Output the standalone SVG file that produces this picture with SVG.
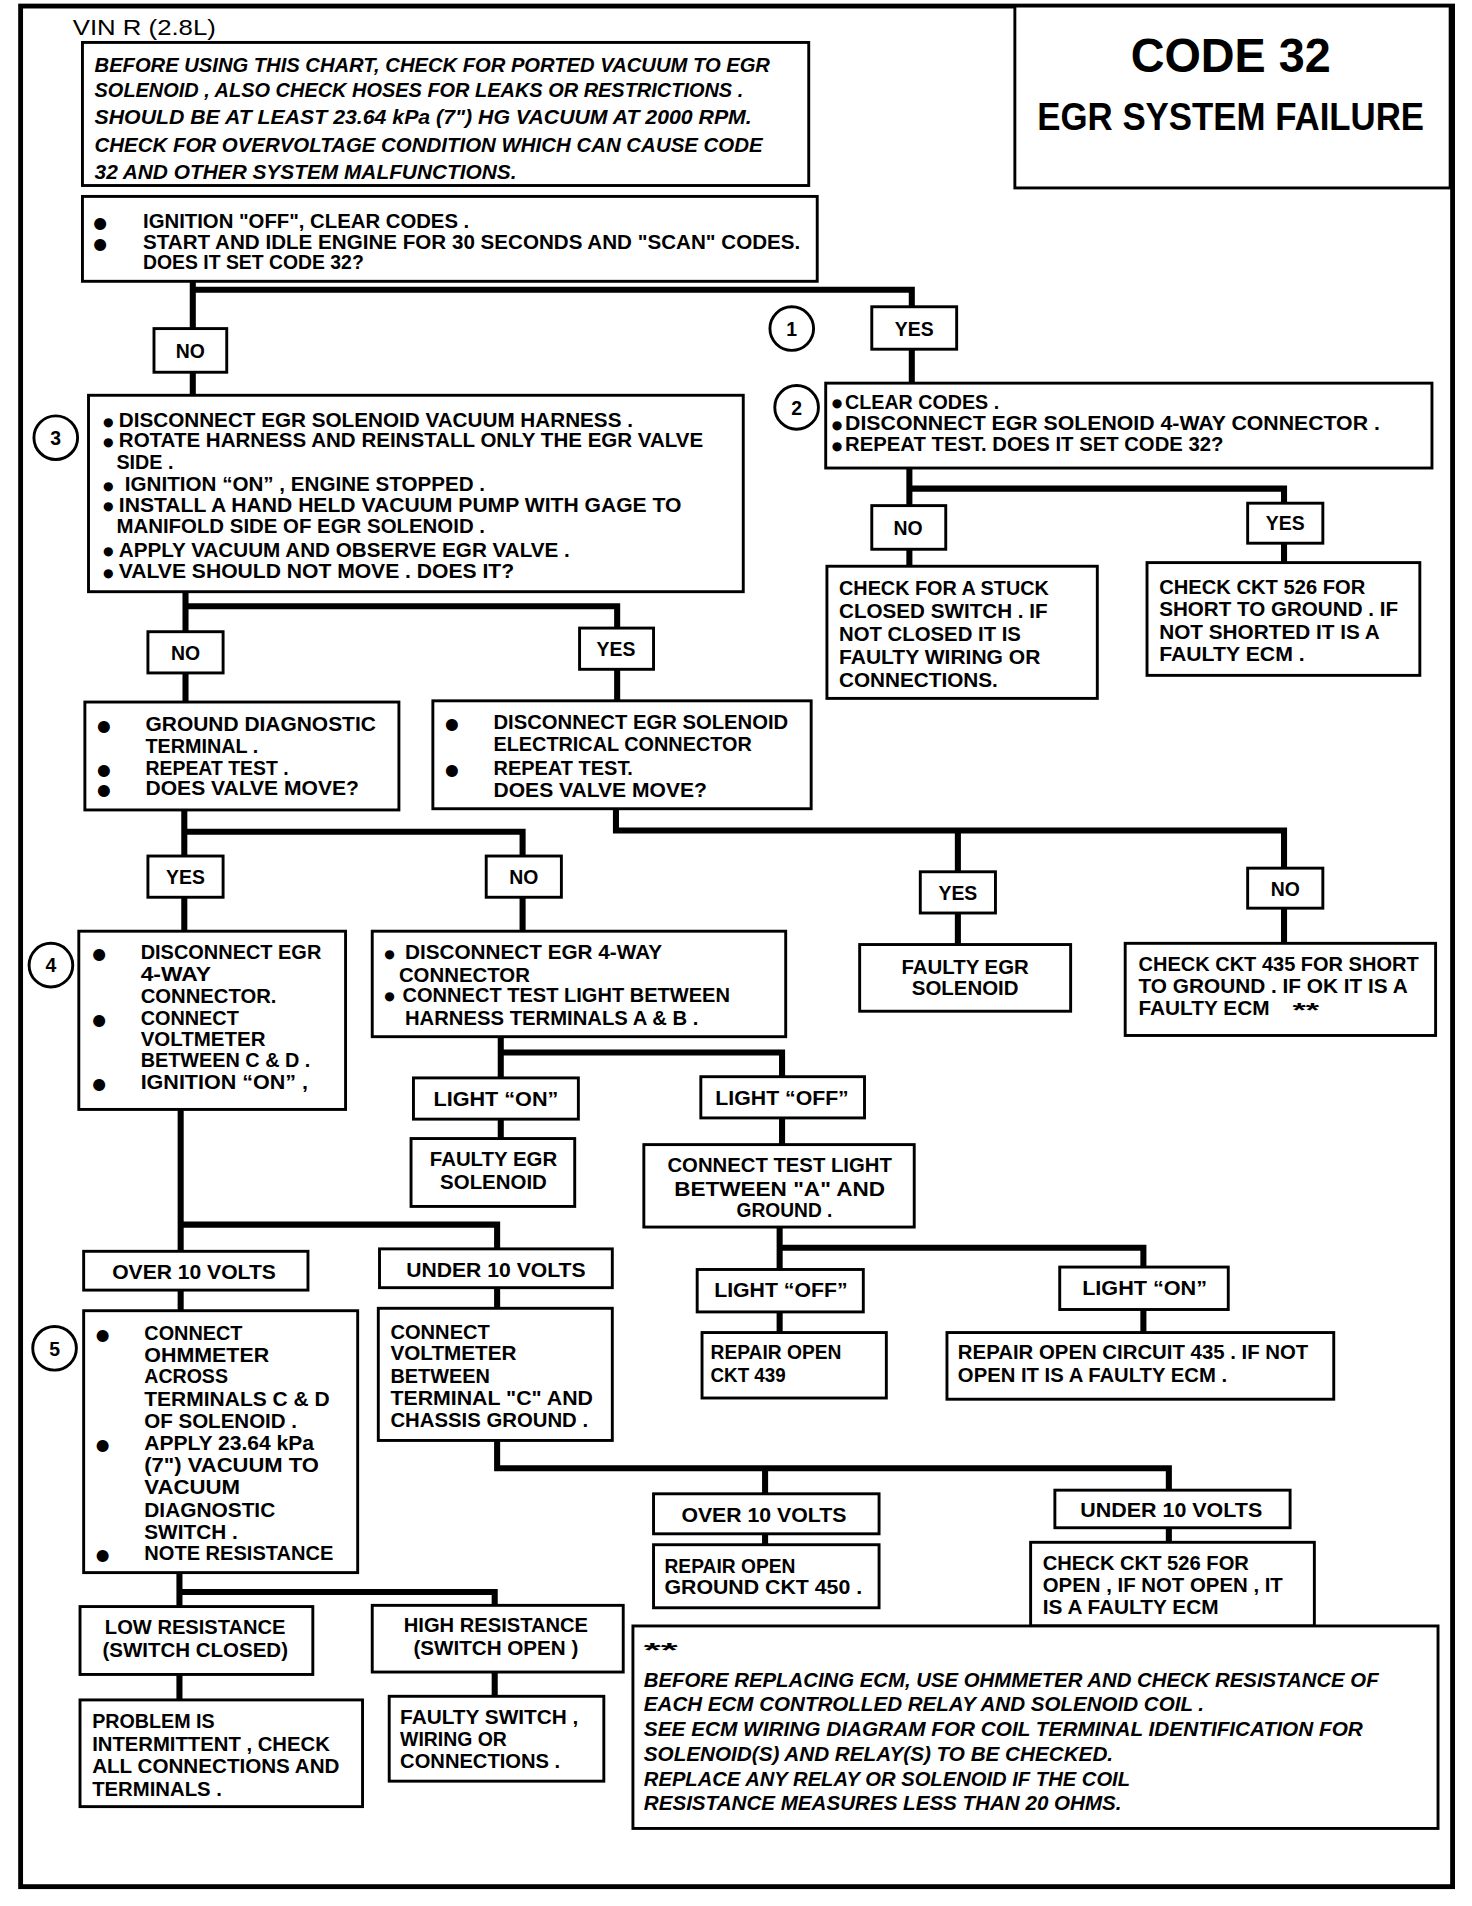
<svg xmlns="http://www.w3.org/2000/svg" width="1472" height="1906" viewBox="0 0 1472 1906">
<defs>
<style>
.b{fill:#fff;stroke:#000;stroke-width:2.4}
.f{fill:none;stroke:#000;stroke-width:4}
.c{fill:none;stroke:#000;stroke-width:5;stroke-linecap:square;stroke-linejoin:miter}
.ci{fill:#fff;stroke:#000;stroke-width:2.4}
text{font-family:"Liberation Sans",Arial,"DejaVu Sans",sans-serif;font-weight:bold;font-size:16px;fill:#000}
.i{font-style:italic;font-size:17px}
.m{text-anchor:middle}
.d{font-family:"DejaVu Sans",sans-serif;font-size:13px;font-weight:normal}
.s{font-family:"DejaVu Sans",sans-serif;font-size:10px;font-weight:normal}
.r{font-weight:normal;font-size:18px}
</style>
</defs>
<rect width="1472" height="1906" fill="#fff"/>
<g transform="scale(1.2125)">
<rect class="f" x="17" y="5" width="1181" height="1551"/>
<text class="r" x="60" y="29" textLength="118" lengthAdjust="spacingAndGlyphs">VIN R (2.8L)</text>

<g id="connectors">
<path class="c" d="M159,232 V271 M159,239 H752 V253"/>
<path class="c" d="M159,307 V326"/>
<path class="c" d="M752,288 V315"/>
<path class="c" d="M750,386 V417 M750,403 H1059 V415"/>
<path class="c" d="M750,453 V467 M1059,448 V464"/>
<path class="c" d="M153,488 V521 M153,500 H509 V518"/>
<path class="c" d="M153,555 V579 M509,552 V578"/>
<path class="c" d="M152,668 V706 M152,686 H431 V706"/>
<path class="c" d="M152,740 V768 M431,740 V768"/>
<path class="c" d="M508,667 V685 H1059 V716 M790,685 V719"/>
<path class="c" d="M790,753 V779 M1059,749 V778"/>
<path class="c" d="M413,855 V889 M413,868 H645 V888"/>
<path class="c" d="M413,923 V939 M645,922 V944"/>
<path class="c" d="M643,1012 V1047 M643,1029 H943 V1045"/>
<path class="c" d="M643,1082 V1099 M943,1080 V1099"/>
<path class="c" d="M149,916 V1032 M149,1010 H410 V1030"/>
<path class="c" d="M149,1064 V1081 M410,1062 V1079"/>
<path class="c" d="M410,1188 V1211 H964 V1229 M631,1211 V1232"/>
<path class="c" d="M631,1265 V1274 M964,1260 V1272"/>
<path class="c" d="M148,1297 V1325 M148,1313 H408 V1324"/>
<path class="c" d="M148,1381 V1402 M408,1379 V1399"/>
</g>

<g id="title">
<rect class="b" x="837" y="5" width="359" height="150"/>
<text class="m" x="1015" y="59" style="font-size:39px" textLength="165" lengthAdjust="spacingAndGlyphs">CODE 32</text>
<text class="m" x="1015" y="107" style="font-size:32px" textLength="319" lengthAdjust="spacingAndGlyphs">EGR SYSTEM FAILURE</text>
</g>

<g id="intro">
<rect class="b" x="68" y="35" width="599" height="118"/>
<text class="i" x="78" y="59" textLength="557" lengthAdjust="spacingAndGlyphs">BEFORE USING THIS CHART, CHECK FOR PORTED VACUUM TO EGR</text>
<text class="i" x="78" y="80" textLength="535" lengthAdjust="spacingAndGlyphs">SOLENOID , ALSO CHECK HOSES FOR LEAKS OR RESTRICTIONS .</text>
<text class="i" x="78" y="102" textLength="542" lengthAdjust="spacingAndGlyphs">SHOULD BE  AT LEAST 23.64 kPa (7") HG VACUUM AT 2000 RPM.</text>
<text class="i" x="78" y="125" textLength="551" lengthAdjust="spacingAndGlyphs">CHECK FOR OVERVOLTAGE CONDITION WHICH CAN CAUSE CODE</text>
<text class="i" x="78" y="148" textLength="348" lengthAdjust="spacingAndGlyphs">32 AND OTHER SYSTEM MALFUNCTIONS.</text>
</g>

<g id="start">
<rect class="b" x="68" y="162" width="606" height="70"/>
<text class="d" x="77" y="188">●</text>
<text class="d" x="77" y="205">●</text>
<text x="118" y="188" textLength="269" lengthAdjust="spacingAndGlyphs">IGNITION "OFF", CLEAR CODES .</text>
<text x="118" y="205" textLength="542" lengthAdjust="spacingAndGlyphs">START AND IDLE ENGINE FOR 30 SECONDS AND "SCAN" CODES.</text>
<text x="118" y="222" textLength="182" lengthAdjust="spacingAndGlyphs">DOES IT SET CODE 32?</text>
</g>

<g id="no1"><rect class="b" x="127" y="271" width="60" height="36"/><text class="m" x="157" y="295">NO</text></g>
<g id="yes1"><rect class="b" x="719" y="253" width="70" height="35"/><text class="m" x="754" y="277">YES</text></g>
<g id="c1"><circle class="ci" cx="653" cy="271" r="18"/><text class="m" x="653" y="277">1</text></g>
<g id="c2"><circle class="ci" cx="657" cy="336" r="18"/><text class="m" x="657" y="342">2</text></g>
<g id="c3"><circle class="ci" cx="46" cy="361" r="18"/><text class="m" x="46" y="367">3</text></g>
<g id="c4"><circle class="ci" cx="42" cy="796" r="18"/><text class="m" x="42" y="802">4</text></g>
<g id="c5"><circle class="ci" cx="45" cy="1112" r="18"/><text class="m" x="45" y="1118">5</text></g>

<g id="step2">
<rect class="b" x="681" y="316" width="500" height="70"/>
<text class="s" x="686" y="336">●</text>
<text class="s" x="686" y="354">●</text>
<text class="s" x="686" y="371">●</text>
<text x="697" y="337" textLength="127" lengthAdjust="spacingAndGlyphs">CLEAR CODES .</text>
<text x="697" y="355" textLength="441" lengthAdjust="spacingAndGlyphs">DISCONNECT EGR SOLENOID 4-WAY CONNECTOR .</text>
<text x="697" y="372" textLength="312" lengthAdjust="spacingAndGlyphs">REPEAT TEST.  DOES IT SET CODE 32?</text>
</g>

<g id="no5"><rect class="b" x="719" y="417" width="61" height="36"/><text class="m" x="749" y="441">NO</text></g>
<g id="yes5"><rect class="b" x="1029" y="415" width="62" height="33"/><text class="m" x="1060" y="437">YES</text></g>

<g id="stuck">
<rect class="b" x="682" y="467" width="223" height="109"/>
<text x="692" y="491" textLength="173" lengthAdjust="spacingAndGlyphs">CHECK FOR A STUCK</text>
<text x="692" y="510" textLength="172" lengthAdjust="spacingAndGlyphs">CLOSED SWITCH .  IF</text>
<text x="692" y="529" textLength="150" lengthAdjust="spacingAndGlyphs">NOT CLOSED IT IS</text>
<text x="692" y="548" textLength="166" lengthAdjust="spacingAndGlyphs">FAULTY WIRING OR</text>
<text x="692" y="567" textLength="131" lengthAdjust="spacingAndGlyphs">CONNECTIONS.</text>
</g>

<g id="ckt526short">
<rect class="b" x="946" y="464" width="225" height="93"/>
<text x="956" y="490" textLength="170" lengthAdjust="spacingAndGlyphs">CHECK CKT 526 FOR</text>
<text x="956" y="508" textLength="197" lengthAdjust="spacingAndGlyphs">SHORT TO GROUND . IF</text>
<text x="956" y="527" textLength="182" lengthAdjust="spacingAndGlyphs">NOT SHORTED IT IS A</text>
<text x="956" y="545" textLength="120" lengthAdjust="spacingAndGlyphs">FAULTY ECM .</text>
</g>

<g id="step3">
<rect class="b" x="73" y="326" width="540" height="162"/>
<text class="s" x="85" y="351">●</text>
<text class="s" x="85" y="368">●</text>
<text class="s" x="85" y="404">●</text>
<text class="s" x="85" y="421">●</text>
<text class="s" x="85" y="458">●</text>
<text class="s" x="85" y="476">●</text>
<text x="98" y="352" textLength="424" lengthAdjust="spacingAndGlyphs">DISCONNECT EGR SOLENOID VACUUM HARNESS  .</text>
<text x="98" y="369" textLength="482" lengthAdjust="spacingAndGlyphs">ROTATE HARNESS AND REINSTALL ONLY THE EGR VALVE</text>
<text x="96" y="387" textLength="47" lengthAdjust="spacingAndGlyphs">SIDE .</text>
<text x="103" y="405" textLength="297" lengthAdjust="spacingAndGlyphs">IGNITION “ON” , ENGINE STOPPED .</text>
<text x="98" y="422" textLength="464" lengthAdjust="spacingAndGlyphs">INSTALL A HAND HELD VACUUM PUMP WITH GAGE TO</text>
<text x="96" y="440" textLength="304" lengthAdjust="spacingAndGlyphs">MANIFOLD SIDE OF EGR SOLENOID .</text>
<text x="98" y="459" textLength="372" lengthAdjust="spacingAndGlyphs">APPLY VACUUM AND OBSERVE EGR VALVE .</text>
<text x="98" y="477" textLength="326" lengthAdjust="spacingAndGlyphs">VALVE SHOULD NOT MOVE .  DOES IT?</text>
</g>

<g id="no2"><rect class="b" x="122" y="521" width="62" height="34"/><text class="m" x="153" y="544">NO</text></g>
<g id="yes2"><rect class="b" x="478" y="518" width="61" height="34"/><text class="m" x="508" y="541">YES</text></g>

<g id="ground">
<rect class="b" x="70" y="579" width="259" height="89"/>
<text class="d" x="80" y="603">●</text>
<text class="d" x="80" y="639">●</text>
<text class="d" x="80" y="656">●</text>
<text x="120" y="603" textLength="190" lengthAdjust="spacingAndGlyphs">GROUND DIAGNOSTIC</text>
<text x="120" y="621" textLength="93" lengthAdjust="spacingAndGlyphs">TERMINAL .</text>
<text x="120" y="639" textLength="118" lengthAdjust="spacingAndGlyphs">REPEAT TEST .</text>
<text x="120" y="656" textLength="176" lengthAdjust="spacingAndGlyphs">DOES VALVE MOVE?</text>
</g>

<g id="disconnect">
<rect class="b" x="357" y="578" width="312" height="89"/>
<text class="d" x="367" y="601">●</text>
<text class="d" x="367" y="639">●</text>
<text x="407" y="601" textLength="243" lengthAdjust="spacingAndGlyphs">DISCONNECT EGR SOLENOID</text>
<text x="407" y="619" textLength="213" lengthAdjust="spacingAndGlyphs">ELECTRICAL CONNECTOR</text>
<text x="407" y="639" textLength="115" lengthAdjust="spacingAndGlyphs">REPEAT TEST.</text>
<text x="407" y="657" textLength="176" lengthAdjust="spacingAndGlyphs">DOES VALVE MOVE?</text>
</g>

<g id="yes3"><rect class="b" x="122" y="706" width="62" height="34"/><text class="m" x="153" y="729">YES</text></g>
<g id="no3"><rect class="b" x="401" y="706" width="62" height="34"/><text class="m" x="432" y="729">NO</text></g>
<g id="yes4"><rect class="b" x="759" y="719" width="62" height="34"/><text class="m" x="790" y="742">YES</text></g>
<g id="no4"><rect class="b" x="1029" y="716" width="62" height="33"/><text class="m" x="1060" y="739">NO</text></g>

<g id="faultyegr1">
<rect class="b" x="709" y="779" width="174" height="55"/>
<text class="m" x="796" y="803" textLength="105" lengthAdjust="spacingAndGlyphs">FAULTY EGR</text>
<text class="m" x="796" y="821" textLength="88" lengthAdjust="spacingAndGlyphs">SOLENOID</text>
</g>

<g id="ckt435">
<rect class="b" x="928" y="778" width="256" height="76"/>
<text x="939" y="801" textLength="231" lengthAdjust="spacingAndGlyphs">CHECK CKT 435 FOR SHORT</text>
<text x="939" y="819" textLength="222" lengthAdjust="spacingAndGlyphs">TO GROUND . IF OK  IT IS A</text>
<text x="939" y="837" textLength="108" lengthAdjust="spacingAndGlyphs">FAULTY ECM</text>
<text x="1066" y="839" textLength="22" lengthAdjust="spacingAndGlyphs">**</text>
</g>

<g id="step4">
<rect class="b" x="65" y="768" width="220" height="147"/>
<text class="d" x="76" y="791">●</text>
<text class="d" x="76" y="845">●</text>
<text class="d" x="76" y="898">●</text>
<text x="116" y="791" textLength="149" lengthAdjust="spacingAndGlyphs">DISCONNECT EGR</text>
<text x="116" y="809" textLength="58" lengthAdjust="spacingAndGlyphs">4-WAY</text>
<text x="116" y="827" textLength="112" lengthAdjust="spacingAndGlyphs">CONNECTOR.</text>
<text x="116" y="845" textLength="81" lengthAdjust="spacingAndGlyphs">CONNECT</text>
<text x="116" y="863" textLength="103" lengthAdjust="spacingAndGlyphs">VOLTMETER</text>
<text x="116" y="880" textLength="140" lengthAdjust="spacingAndGlyphs">BETWEEN C &amp; D .</text>
<text x="116" y="898" textLength="138" lengthAdjust="spacingAndGlyphs">IGNITION “ON” ,</text>
</g>

<g id="fourway">
<rect class="b" x="307" y="768" width="341" height="87"/>
<text class="s" x="317" y="790">●</text>
<text class="s" x="317" y="825">●</text>
<text x="334" y="791" textLength="212" lengthAdjust="spacingAndGlyphs">DISCONNECT EGR 4-WAY</text>
<text x="329" y="810" textLength="108" lengthAdjust="spacingAndGlyphs">CONNECTOR</text>
<text x="332" y="826" textLength="270" lengthAdjust="spacingAndGlyphs">CONNECT TEST LIGHT BETWEEN</text>
<text x="334" y="845" textLength="242" lengthAdjust="spacingAndGlyphs">HARNESS TERMINALS A &amp; B .</text>
</g>

<g id="lighton1"><rect class="b" x="341" y="889" width="136" height="34"/><text class="m" x="409" y="912" textLength="103" lengthAdjust="spacingAndGlyphs">LIGHT “ON”</text></g>
<g id="lightoff1"><rect class="b" x="578" y="888" width="135" height="34"/><text class="m" x="645" y="911" textLength="110" lengthAdjust="spacingAndGlyphs">LIGHT “OFF”</text></g>

<g id="faultyegr2">
<rect class="b" x="339" y="939" width="135" height="56"/>
<text class="m" x="407" y="962" textLength="105" lengthAdjust="spacingAndGlyphs">FAULTY EGR</text>
<text class="m" x="407" y="981" textLength="88" lengthAdjust="spacingAndGlyphs">SOLENOID</text>
</g>

<g id="testlight">
<rect class="b" x="531" y="944" width="223" height="68"/>
<text class="m" x="643" y="967" textLength="185" lengthAdjust="spacingAndGlyphs">CONNECT TEST LIGHT</text>
<text class="m" x="643" y="986" textLength="174" lengthAdjust="spacingAndGlyphs">BETWEEN "A"  AND</text>
<text class="m" x="647" y="1004" textLength="79" lengthAdjust="spacingAndGlyphs">GROUND .</text>
</g>

<g id="lightoff2"><rect class="b" x="575" y="1047" width="137" height="35"/><text class="m" x="644" y="1070" textLength="110" lengthAdjust="spacingAndGlyphs">LIGHT “OFF”</text></g>
<g id="lighton2"><rect class="b" x="874" y="1045" width="139" height="35"/><text class="m" x="944" y="1068" textLength="103" lengthAdjust="spacingAndGlyphs">LIGHT “ON”</text></g>

<g id="repair439">
<rect class="b" x="579" y="1099" width="152" height="54"/>
<text x="586" y="1121" textLength="108" lengthAdjust="spacingAndGlyphs">REPAIR OPEN</text>
<text x="586" y="1140" textLength="62" lengthAdjust="spacingAndGlyphs">CKT 439</text>
</g>

<g id="repair435">
<rect class="b" x="781" y="1099" width="319" height="55"/>
<text x="790" y="1121" textLength="289" lengthAdjust="spacingAndGlyphs">REPAIR OPEN CIRCUIT 435 . IF NOT</text>
<text x="790" y="1140" textLength="222" lengthAdjust="spacingAndGlyphs">OPEN IT IS A FAULTY ECM .</text>
</g>

<g id="over10a"><rect class="b" x="69" y="1032" width="185" height="32"/><text class="m" x="160" y="1055" textLength="135" lengthAdjust="spacingAndGlyphs">OVER 10  VOLTS</text></g>
<g id="under10a"><rect class="b" x="313" y="1030" width="192" height="32"/><text class="m" x="409" y="1053" textLength="148" lengthAdjust="spacingAndGlyphs">UNDER 10  VOLTS</text></g>

<g id="step5">
<rect class="b" x="69" y="1081" width="226" height="216"/>
<text class="d" x="79" y="1105">●</text>
<text class="d" x="79" y="1196">●</text>
<text class="d" x="79" y="1287">●</text>
<text x="119" y="1105" textLength="81" lengthAdjust="spacingAndGlyphs">CONNECT</text>
<text x="119" y="1123" textLength="103" lengthAdjust="spacingAndGlyphs">OHMMETER</text>
<text x="119" y="1141" textLength="69" lengthAdjust="spacingAndGlyphs">ACROSS</text>
<text x="119" y="1160" textLength="153" lengthAdjust="spacingAndGlyphs">TERMINALS  C &amp; D</text>
<text x="119" y="1178" textLength="126" lengthAdjust="spacingAndGlyphs">OF SOLENOID .</text>
<text x="119" y="1196" textLength="140" lengthAdjust="spacingAndGlyphs">APPLY 23.64 kPa</text>
<text x="119" y="1214" textLength="144" lengthAdjust="spacingAndGlyphs">(7") VACUUM TO</text>
<text x="119" y="1232" textLength="79" lengthAdjust="spacingAndGlyphs">VACUUM</text>
<text x="119" y="1251" textLength="108" lengthAdjust="spacingAndGlyphs">DIAGNOSTIC</text>
<text x="119" y="1269" textLength="77" lengthAdjust="spacingAndGlyphs">SWITCH .</text>
<text x="119" y="1287" textLength="156" lengthAdjust="spacingAndGlyphs">NOTE RESISTANCE</text>
</g>

<g id="voltmeter">
<rect class="b" x="312" y="1079" width="193" height="109"/>
<text x="322" y="1104" textLength="82" lengthAdjust="spacingAndGlyphs">CONNECT</text>
<text x="322" y="1122" textLength="104" lengthAdjust="spacingAndGlyphs">VOLTMETER</text>
<text x="322" y="1141" textLength="82" lengthAdjust="spacingAndGlyphs">BETWEEN</text>
<text x="322" y="1159" textLength="167" lengthAdjust="spacingAndGlyphs">TERMINAL "C" AND</text>
<text x="322" y="1177" textLength="163" lengthAdjust="spacingAndGlyphs">CHASSIS GROUND .</text>
</g>

<g id="over10b"><rect class="b" x="539" y="1232" width="186" height="33"/><text class="m" x="630" y="1255" textLength="136" lengthAdjust="spacingAndGlyphs">OVER 10  VOLTS</text></g>
<g id="under10b"><rect class="b" x="870" y="1229" width="194" height="31"/><text class="m" x="966" y="1251" textLength="150" lengthAdjust="spacingAndGlyphs">UNDER 10  VOLTS</text></g>

<g id="repair450">
<rect class="b" x="539" y="1274" width="186" height="52"/>
<text x="548" y="1297" textLength="108" lengthAdjust="spacingAndGlyphs">REPAIR OPEN</text>
<text x="548" y="1315" textLength="163" lengthAdjust="spacingAndGlyphs">GROUND CKT 450 .</text>
</g>

<g id="ckt526open">
<rect class="b" x="850" y="1272" width="234" height="69"/>
<text x="860" y="1295" textLength="170" lengthAdjust="spacingAndGlyphs">CHECK CKT 526 FOR</text>
<text x="860" y="1313" textLength="198" lengthAdjust="spacingAndGlyphs">OPEN , IF NOT OPEN , IT</text>
<text x="860" y="1331" textLength="145" lengthAdjust="spacingAndGlyphs">IS A FAULTY ECM</text>
</g>

<g id="footnote">
<rect class="b" x="522" y="1341" width="664" height="167"/>
<text x="531" y="1367" textLength="28" lengthAdjust="spacingAndGlyphs">**</text>
<text class="i" x="531" y="1391" textLength="606" lengthAdjust="spacingAndGlyphs">BEFORE REPLACING ECM, USE OHMMETER AND CHECK RESISTANCE OF</text>
<text class="i" x="531" y="1411" textLength="462" lengthAdjust="spacingAndGlyphs">EACH ECM CONTROLLED RELAY AND SOLENOID COIL .</text>
<text class="i" x="531" y="1432" textLength="593" lengthAdjust="spacingAndGlyphs">SEE ECM WIRING DIAGRAM FOR COIL TERMINAL IDENTIFICATION FOR</text>
<text class="i" x="531" y="1452" textLength="387" lengthAdjust="spacingAndGlyphs">SOLENOID(S) AND RELAY(S) TO BE CHECKED.</text>
<text class="i" x="531" y="1473" textLength="401" lengthAdjust="spacingAndGlyphs">REPLACE ANY RELAY OR SOLENOID IF THE COIL</text>
<text class="i" x="531" y="1493" textLength="394" lengthAdjust="spacingAndGlyphs">RESISTANCE MEASURES LESS THAN 20 OHMS.</text>
</g>

<g id="lowres">
<rect class="b" x="66" y="1325" width="192" height="56"/>
<text class="m" x="161" y="1348" textLength="149" lengthAdjust="spacingAndGlyphs">LOW RESISTANCE</text>
<text class="m" x="161" y="1367" textLength="153" lengthAdjust="spacingAndGlyphs">(SWITCH CLOSED)</text>
</g>

<g id="highres">
<rect class="b" x="307" y="1324" width="207" height="55"/>
<text class="m" x="409" y="1346" textLength="152" lengthAdjust="spacingAndGlyphs">HIGH RESISTANCE</text>
<text class="m" x="409" y="1365" textLength="136" lengthAdjust="spacingAndGlyphs">(SWITCH OPEN )</text>
</g>

<g id="problem">
<rect class="b" x="66" y="1402" width="233" height="88"/>
<text x="76" y="1425" textLength="101" lengthAdjust="spacingAndGlyphs">PROBLEM IS</text>
<text x="76" y="1444" textLength="196" lengthAdjust="spacingAndGlyphs">INTERMITTENT , CHECK</text>
<text x="76" y="1462" textLength="204" lengthAdjust="spacingAndGlyphs">ALL CONNECTIONS AND</text>
<text x="76" y="1481" textLength="107" lengthAdjust="spacingAndGlyphs">TERMINALS .</text>
</g>

<g id="faultyswitch">
<rect class="b" x="321" y="1399" width="177" height="70"/>
<text x="330" y="1422" textLength="147" lengthAdjust="spacingAndGlyphs">FAULTY SWITCH ,</text>
<text x="330" y="1440" textLength="88" lengthAdjust="spacingAndGlyphs">WIRING OR</text>
<text x="330" y="1458" textLength="132" lengthAdjust="spacingAndGlyphs">CONNECTIONS .</text>
</g>
</g>
</svg>
